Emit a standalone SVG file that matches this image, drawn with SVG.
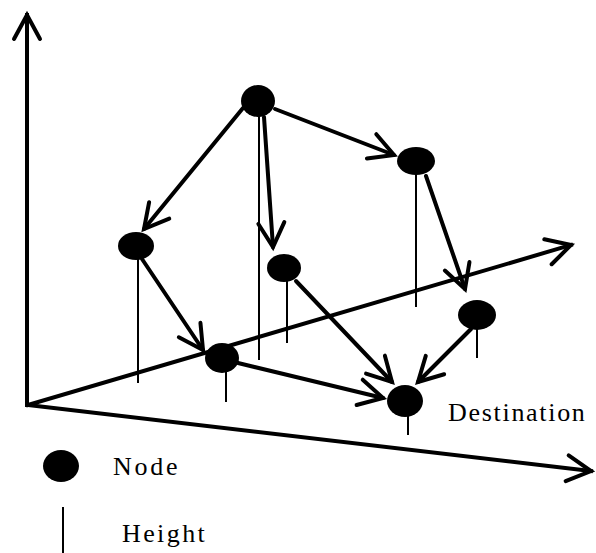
<svg xmlns="http://www.w3.org/2000/svg" width="596" height="553" viewBox="0 0 596 553">
<style>
.ax{stroke:#000;stroke-width:4;fill:none;stroke-linecap:square}
.ed{stroke:#000;stroke-width:4;fill:none;stroke-linecap:round}
.ht{stroke:#000;stroke-width:2;fill:none}
.nd{fill:#000}
.lb{font-family:"Liberation Serif","Times New Roman",serif;font-size:26px;fill:#000;letter-spacing:1.7px}
</style>
<defs>
<marker id="ah" markerUnits="userSpaceOnUse" markerWidth="40" markerHeight="40" viewBox="-30 -20 40 40" refX="0" refY="0" orient="auto" overflow="visible">
<path d="M-24,-13 L0,0 L-24,13" fill="none" stroke="#000" stroke-width="4" stroke-linecap="round" stroke-linejoin="miter"/>
</marker>
</defs>
<rect width="596" height="553" fill="#fff"/>
<g id="axes">
<line class="ax" x1="27" y1="405" x2="27" y2="15" marker-end="url(#ah)"/>
<line class="ax" x1="28" y1="405" x2="571" y2="245" marker-end="url(#ah)"/>
<line class="ax" x1="28" y1="405" x2="591" y2="471" marker-end="url(#ah)"/>
</g>
<g id="connectors">
<line class="ed" x1="243" y1="108" x2="144" y2="229" marker-end="url(#ah)"/>
<line class="ed" x1="264" y1="117" x2="273" y2="247" marker-end="url(#ah)"/>
<line class="ed" x1="275" y1="109" x2="394" y2="155" marker-end="url(#ah)"/>
<line class="ed" x1="426" y1="176" x2="465" y2="289" marker-end="url(#ah)"/>
<line class="ed" x1="142" y1="259" x2="203" y2="350" marker-end="url(#ah)"/>
<line class="ed" x1="238" y1="363" x2="383" y2="398" marker-end="url(#ah)"/>
<line class="ed" x1="296" y1="281" x2="392" y2="382" marker-end="url(#ah)"/>
<line class="ed" x1="471" y1="329" x2="418" y2="382" marker-end="url(#ah)"/>
</g>
<g id="n1"><line class="ht" x1="259" y1="110" x2="259" y2="360"/><ellipse class="nd" cx="258" cy="101" rx="17" ry="16"/></g>
<g id="n2"><line class="ht" x1="416" y1="165" x2="416" y2="307"/><ellipse class="nd" cx="416" cy="161" rx="19" ry="14"/></g>
<g id="n3"><line class="ht" x1="138" y1="250" x2="138" y2="383"/><ellipse class="nd" cx="136" cy="246" rx="18" ry="14"/></g>
<g id="n4"><line class="ht" x1="287" y1="270" x2="287" y2="343"/><ellipse class="nd" cx="284" cy="268" rx="17" ry="14"/></g>
<g id="n5"><line class="ht" x1="477" y1="318" x2="477" y2="358"/><ellipse class="nd" cx="477" cy="315" rx="19" ry="15"/></g>
<g id="n6"><line class="ht" x1="226" y1="360" x2="226" y2="402"/><ellipse class="nd" cx="222" cy="358" rx="17" ry="15"/></g>
<g id="n7"><line class="ht" x1="408" y1="404" x2="408" y2="435"/><ellipse class="nd" cx="405" cy="401" rx="18" ry="16"/><text class="lb" x="448" y="421">Destination</text></g>
<g id="legend-node"><ellipse class="nd" cx="61" cy="466" rx="18" ry="16"/><text class="lb" x="113" y="475" style="letter-spacing:2.7px">Node</text></g>
<g id="legend-height"><line class="ht" x1="63" y1="507" x2="63" y2="553"/><text class="lb" x="122" y="542" style="letter-spacing:2.4px">Height</text></g>
</svg>
